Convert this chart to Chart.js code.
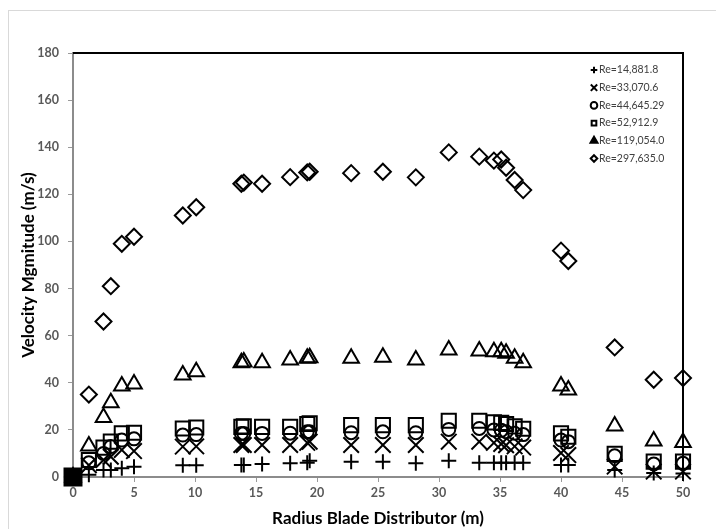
<!DOCTYPE html>
<html>
<head>
<meta charset="utf-8">
<script src="https://cdn.jsdelivr.net/npm/chart.js@4.4.1/dist/chart.umd.min.js"></script>
<style>
  body { margin: 0; background: #fff; }
  #wrap { width: 716px; height: 529px; position: relative; }
</style>
</head>
<body>
<div id="wrap"><canvas id="velocityChart"></canvas></div>
<script>
// radius positions (m), shared by every series
const radii = [0, 1.3, 2.5, 3.1, 4.0, 5.0, 9.0, 10.1, 13.8, 14.0, 15.5, 17.8, 19.2, 19.4, 22.8, 25.4,
    28.1, 30.8, 33.3, 34.5, 35.1, 35.5, 36.2, 36.9, 40.0, 40.6, 44.4, 47.6, 50.0];

// velocity magnitude (m/s) per Reynolds number
const re14881 = [0, 1, 3, 3, 3.7, 4.4, 5, 5, 5.1, 5.1, 5.5, 5.8, 6, 6.9, 6.5, 6.5,
    5.8, 6.9, 6.1, 6, 6, 6, 6, 6, 5.1, 5.1, 3, 1.7, 1.5];
const re33070 = [0, 5, 7.2, 8.6, 11.5, 11, 12.9, 13, 13.6, 13.6, 13.6, 13.6, 14.5, 15, 13.6, 13.6,
    13.6, 15, 15, 14.5, 14, 13.5, 13, 12.5, 10.2, 9.3, 4.4, 2.3, 2.3];
const re44645 = [0, 6, 10, 12.9, 15.7, 16.2, 17.8, 18, 18.5, 18.5, 18.5, 18.6, 19.2, 19.2, 18.8, 19.2,
    18.8, 20.2, 20.6, 20, 19.8, 19.2, 18.6, 18, 15.7, 15, 9, 5.5, 5.8];
const re52912 = [0, 7.2, 12.5, 15, 18.5, 18.8, 20.6, 21, 21.3, 21.5, 21.3, 21.3, 22.5, 22.8, 22, 22,
    22, 23.9, 23.9, 23.2, 23, 22.5, 21.5, 20.5, 18.5, 17.1, 9.8, 6.5, 6.5];
const re119054 = [0, 13.2, 25.3, 31.5, 38.6, 39.5, 43.3, 44.7, 48.5, 48.8, 48.5, 49.7, 50.4, 50.6, 50.4, 50.8,
    49.7, 53.9, 53.5, 53.2, 53.2, 52.5, 50.4, 48.5, 38.6, 36.9, 21.6, 15.3, 14.6];
const re297635 = [0, 35, 66, 81, 99, 102, 111, 114.5, 124.5, 125, 124.5, 127.3, 129.3, 129.6, 129, 129.6,
    127.2, 137.8, 136, 134.3, 134.8, 131.3, 126.1, 121.8, 96.1, 91.7, 55, 41.3, 42];

const seriesLabels = ['Re=14,881.8', 'Re=33,070.6', 'Re=44,645.29', 'Re=52,912.9', 'Re=119,054.0', 'Re=297,635.0'];
const seriesValues = [re14881, re33070, re44645, re52912, re119054, re297635];
const markers = ['cross', 'crossRot', 'circle', 'rect', 'triangle', 'rectRot'];
const markerSizes = [7.5, 11, 6.5, 10, 9, 8];

const xTicks = [0, 50, 5];
const yTicks = [0, 180, 20];

const FONT = 'Lato, "Open Sans", sans-serif';

const datasets = seriesValues.map((vals, i) => {
    const isRect = markers[i] === 'rect';
    return {
        label: seriesLabels[i],
        data: radii.map((r, k) => ({ x: r, y: vals[k] })),
        pointStyle: markers[i],
        // the origin marker of the square series is drawn solid and a bit bigger
        pointRadius: isRect ? (c => c.raw && c.raw.x === 0 ? 12 : markerSizes[i]) : markerSizes[i],
        pointHoverRadius: markerSizes[i],
        borderColor: '#000',
        borderWidth: 2,
        pointBorderWidth: 2,
        pointBackgroundColor: isRect ? (c => c.raw && c.raw.x === 0 ? '#000' : 'rgba(0,0,0,0)') : 'rgba(0,0,0,0)',
        showLine: false,
        clip: false
    };
});

// frame: light outer border, black top and right edges of plot
const framePlugin = {
    id: 'frame',
    beforeDraw(chart) {
        const ctx = chart.ctx;
        ctx.save();
        ctx.strokeStyle = '#d9d9d9';
        ctx.lineWidth = 1;
        ctx.strokeRect(8.5, 10.5, 720, 530);
        ctx.restore();
    },
    beforeDatasetsDraw(chart) {
        const { ctx, chartArea: a } = chart;
        ctx.save();
        ctx.strokeStyle = '#000';
        ctx.lineWidth = 2;
        ctx.beginPath();
        ctx.moveTo(a.left, a.top);
        ctx.lineTo(a.right, a.top);
        ctx.lineTo(a.right, a.bottom);
        ctx.stroke();
        ctx.restore();
    }
};

// legend inside the plot, top right
const legendPlugin = {
    id: 'insideLegend',
    afterDraw(chart) {
        const ctx = chart.ctx;
        const x0 = 594, y0 = 70, step = 17.7;
        ctx.save();
        chart.data.datasets.forEach((ds, i) => {
            const y = y0 + i * step;
            ctx.strokeStyle = '#000';
            ctx.lineWidth = 2;
            ctx.fillStyle = ds.pointStyle === 'triangle' ? '#000' : '#fff';
            const r = ds.pointStyle === 'crossRot' ? 4.5 : (ds.pointStyle === 'triangle' ? 4 : 3.3);
            Chart.helpers.drawPoint(ctx, { pointStyle: ds.pointStyle, radius: r, borderWidth: 2, rotation: 0 }, x0, y);
            ctx.fillStyle = '#404040';
            ctx.font = '10.5px ' + FONT;
            ctx.textAlign = 'left';
            ctx.textBaseline = 'middle';
            ctx.fillText(ds.label, x0 + 5, y);
        });
        ctx.restore();
    }
};

const ctx = document.getElementById('velocityChart').getContext('2d');
const velocityChart = new Chart(ctx, {
    type: 'scatter',
    data: { datasets: datasets },
    plugins: [framePlugin, legendPlugin],
    options: {
        responsive: true,
        maintainAspectRatio: false,
        animation: false,
        layout: { padding: { left: 0, top: 53, right: 33, bottom: 0 } },
        plugins: {
            legend: { display: false },
            tooltip: { enabled: false }
        },
        scales: {
            x: {
                type: 'linear',
                min: xTicks[0],
                max: xTicks[1],
                afterFit: s => { s.height = 52; },
                ticks: {
                    stepSize: xTicks[2],
                    padding: 3,
                    color: '#595959',
                    font: { family: FONT, size: 12.5, weight: 'bold' }
                },
                grid: { drawOnChartArea: false, drawTicks: true, tickLength: 5, color: '#9a9a9a' },
                border: { color: '#8c8c8c', width: 2 },
                title: {
                    display: true,
                    text: 'Radius Blade Distributor (m)',
                    color: '#000',
                    padding: { top: 0, bottom: 0 },
                    font: { family: FONT, size: 17, weight: 'bold' }
                }
            },
            y: {
                min: yTicks[0],
                max: yTicks[1],
                afterFit: s => { s.width = 73; },
                ticks: {
                    stepSize: yTicks[2],
                    padding: 9,
                    color: '#595959',
                    font: { family: FONT, size: 12.5, weight: 'bold' }
                },
                grid: { drawOnChartArea: false, drawTicks: true, tickLength: 5, color: '#9a9a9a' },
                border: { color: '#8c8c8c', width: 2 },
                title: {
                    display: true,
                    text: 'Velocity Mgmitude (m/s)',
                    color: '#000',
                    padding: { top: 18, bottom: 0 },
                    font: { family: FONT, size: 17, weight: 'bold' }
                }
            }
        }
    }
});
</script>
</body>
</html>
